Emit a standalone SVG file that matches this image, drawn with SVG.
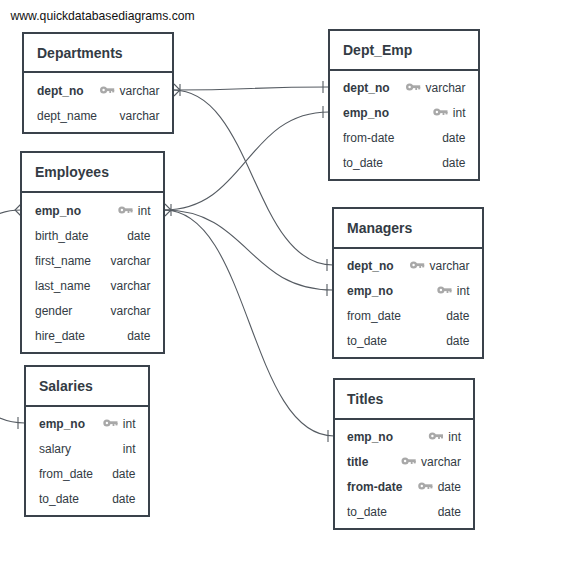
<svg xmlns="http://www.w3.org/2000/svg" xmlns:xlink="http://www.w3.org/1999/xlink" width="570" height="565" viewBox="0 0 570 565">
<style>
  text { font-family: "Liberation Sans", Arial, Helvetica, sans-serif; fill: #333b44; }
  .box { fill: #ffffff; stroke: #3a424b; stroke-width: 2; }
  .div { stroke: #3a424b; stroke-width: 2; }
  .title { font-size: 14px; font-weight: bold; }
  .f { font-size: 12px; }
  .pk { font-weight: bold; }
  .t { font-size: 12px; text-anchor: end; }
  .url { font-size: 12.2px; fill: #111; }
  .conn { fill: none; stroke: #555b62; stroke-width: 1.1; }
</style>
<defs>
  <g id="key" fill="#a8a8a8">
    <circle cx="3.6" cy="0" r="3.6"/>
    <circle cx="3.6" cy="0" r="1.2" fill="#ffffff"/>
    <rect x="6" y="-1.7" width="8.2" height="2.8"/>
    <rect x="9.3" y="0" width="1.8" height="3"/>
    <rect x="12.2" y="0" width="2" height="2.4"/>
  </g>
</defs>
<rect width="570" height="565" fill="#ffffff"/>
<text class="url" x="10.5" y="20">www.quickdatabasediagrams.com</text>

<g id="connectors">
  <path class="conn" d="M173,90 C251,90 251,87 329,87"/>
  <path class="conn" d="M173,90 C253,90 253,265 333,265"/>
  <path class="conn" d="M164,210 C246,210 246,112 329,112"/>
  <path class="conn" d="M164,210 C248,210 248,290 333,290"/>
  <path class="conn" d="M164,210 C250,210 249,436 334,436"/>
  <path class="conn" d="M21,210 C-80,210 -75,423 25,423"/>
  <path class="conn" d="M174,84 L180,90 L174,96 M180,84 V96"/>
  <path class="conn" d="M165,204 L171,210 L165,216 M171,204 V216"/>
  <path class="conn" d="M21,204 L15,210 L21,216"/>
  <path class="conn" d="M323,81 V93 M323,106 V118"/>
  <path class="conn" d="M327,259 V271 M327,284 V296"/>
  <path class="conn" d="M328,430 V442"/>
  <path class="conn" d="M18,417 V429"/>
</g>

<g id="Departments">
  <rect class="box" x="23" y="33" width="150" height="100"/>
  <line class="div" x1="23" y1="72" x2="173" y2="72"/>
  <text class="title" x="37" y="58">Departments</text>
  <text class="f pk" x="37" y="94.5">dept_no</text>
  <use href="#key" x="100" y="90"/>
  <text class="t" x="159.5" y="94.5">varchar</text>
  <text class="f" x="37" y="119.5">dept_name</text>
  <text class="t" x="159.5" y="119.5">varchar</text>
</g>

<g id="Employees">
  <rect class="box" x="21" y="152" width="143" height="201"/>
  <line class="div" x1="21" y1="192" x2="164" y2="192"/>
  <text class="title" x="35" y="177">Employees</text>
  <text class="f pk" x="35" y="214.5">emp_no</text>
  <use href="#key" x="118.3" y="210"/>
  <text class="t" x="150.5" y="214.5">int</text>
  <text class="f" x="35" y="239.5">birth_date</text>
  <text class="t" x="150.5" y="239.5">date</text>
  <text class="f" x="35" y="264.5">first_name</text>
  <text class="t" x="150.5" y="264.5">varchar</text>
  <text class="f" x="35" y="289.5">last_name</text>
  <text class="t" x="150.5" y="289.5">varchar</text>
  <text class="f" x="35" y="314.5">gender</text>
  <text class="t" x="150.5" y="314.5">varchar</text>
  <text class="f" x="35" y="339.5">hire_date</text>
  <text class="t" x="150.5" y="339.5">date</text>
</g>

<g id="Salaries">
  <rect class="box" x="25" y="366" width="124" height="150"/>
  <line class="div" x1="25" y1="406" x2="149" y2="406"/>
  <text class="title" x="39" y="391">Salaries</text>
  <text class="f pk" x="39" y="427.5">emp_no</text>
  <use href="#key" x="103.3" y="423"/>
  <text class="t" x="135.5" y="427.5">int</text>
  <text class="f" x="39" y="452.5">salary</text>
  <text class="t" x="135.5" y="452.5">int</text>
  <text class="f" x="39" y="477.5">from_date</text>
  <text class="t" x="135.5" y="477.5">date</text>
  <text class="f" x="39" y="502.5">to_date</text>
  <text class="t" x="135.5" y="502.5">date</text>
</g>

<g id="Dept_Emp">
  <rect class="box" x="329" y="30" width="150" height="150"/>
  <line class="div" x1="329" y1="70" x2="479" y2="70"/>
  <text class="title" x="343" y="55">Dept_Emp</text>
  <text class="f pk" x="343" y="91.5">dept_no</text>
  <use href="#key" x="406" y="87"/>
  <text class="t" x="465.5" y="91.5">varchar</text>
  <text class="f pk" x="343" y="116.5">emp_no</text>
  <use href="#key" x="433.3" y="112"/>
  <text class="t" x="465.5" y="116.5">int</text>
  <text class="f" x="343" y="141.5">from-date</text>
  <text class="t" x="465.5" y="141.5">date</text>
  <text class="f" x="343" y="166.5">to_date</text>
  <text class="t" x="465.5" y="166.5">date</text>
</g>

<g id="Managers">
  <rect class="box" x="333" y="208" width="150" height="150"/>
  <line class="div" x1="333" y1="248" x2="483" y2="248"/>
  <text class="title" x="347" y="233">Managers</text>
  <text class="f pk" x="347" y="269.5">dept_no</text>
  <use href="#key" x="410" y="265"/>
  <text class="t" x="469.5" y="269.5">varchar</text>
  <text class="f pk" x="347" y="294.5">emp_no</text>
  <use href="#key" x="437.3" y="290"/>
  <text class="t" x="469.5" y="294.5">int</text>
  <text class="f" x="347" y="319.5">from_date</text>
  <text class="t" x="469.5" y="319.5">date</text>
  <text class="f" x="347" y="344.5">to_date</text>
  <text class="t" x="469.5" y="344.5">date</text>
</g>

<g id="Titles">
  <rect class="box" x="334" y="379" width="140" height="150"/>
  <line class="div" x1="334" y1="419" x2="474" y2="419"/>
  <text class="title" x="347" y="404">Titles</text>
  <text class="f pk" x="347" y="440.5">emp_no</text>
  <use href="#key" x="428.8" y="436"/>
  <text class="t" x="461" y="440.5">int</text>
  <text class="f pk" x="347" y="465.5">title</text>
  <use href="#key" x="401.5" y="461"/>
  <text class="t" x="461" y="465.5">varchar</text>
  <text class="f pk" x="347" y="490.5">from-date</text>
  <use href="#key" x="418.2" y="486"/>
  <text class="t" x="461" y="490.5">date</text>
  <text class="f" x="347" y="515.5">to_date</text>
  <text class="t" x="461" y="515.5">date</text>
</g>
</svg>
